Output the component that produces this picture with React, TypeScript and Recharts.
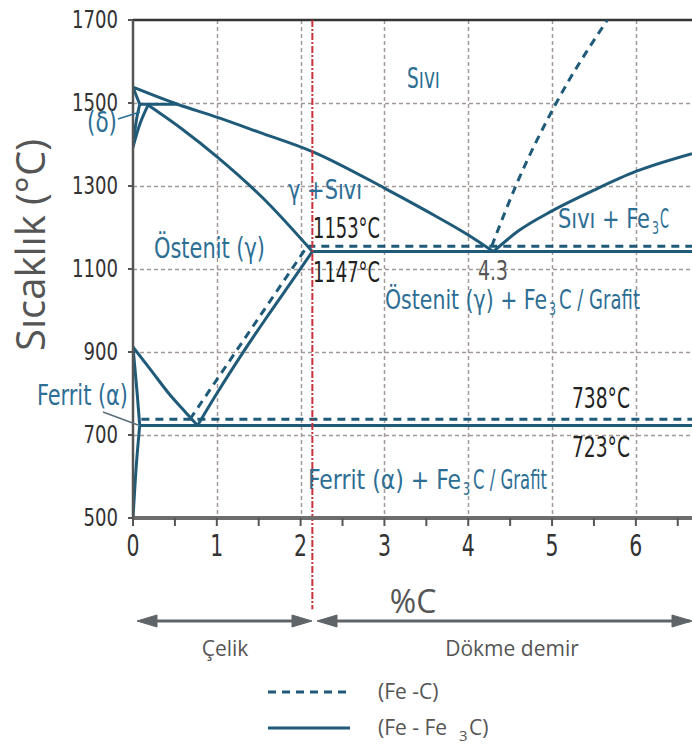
import { LineChart, Line, XAxis, YAxis, ReferenceLine } from "recharts";

// axis ticks
const xTicks = [0, 0.5, 1, 1.5, 2, 2.5, 3, 3.5, 4, 4.5, 5, 5.5, 6, 6.5];
const yTicks = [500, 700, 900, 1100, 1300, 1500, 1700];
const gridX = [1, 2, 3, 4, 5, 6];
const gridY = [700, 900, 1100, 1300, 1500];

// Fe - Fe3C (solid lines), c = %C, t = °C
const liquidus = [
  { c: 0, t: 1538 }, { c: 0.53, t: 1497 }, { c: 1, t: 1466 }, { c: 1.5, t: 1430 },
  { c: 2.14, t: 1383 }, { c: 3, t: 1295 }, { c: 3.5, t: 1240 }, { c: 4, t: 1182 }, { c: 4.3, t: 1142 },
];
const solidusGamma = [
  { c: 0.18, t: 1495 }, { c: 0.6, t: 1435 }, { c: 1, t: 1371 }, { c: 1.55, t: 1271 }, { c: 2.14, t: 1142 },
];
const peritectic = [{ c: 0.08, t: 1497 }, { c: 0.53, t: 1497 }];
const deltaSolidus = [{ c: 0, t: 1538 }, { c: 0.08, t: 1497 }];
const deltaInner = [{ c: 0, t: 1394 }, { c: 0.03, t: 1445 }, { c: 0.08, t: 1497 }];
const deltaOuter = [{ c: 0, t: 1394 }, { c: 0.08, t: 1448 }, { c: 0.18, t: 1495 }];
const eutectic = [{ c: 2.14, t: 1142 }, { c: 6.67, t: 1142 }];
const liquidusFe3C = [
  { c: 4.3, t: 1142 }, { c: 4.6, t: 1192 }, { c: 5, t: 1240 }, { c: 5.5, t: 1290 },
  { c: 6, t: 1335 }, { c: 6.67, t: 1378 },
];
const acm = [
  { c: 0.77, t: 723 }, { c: 1, t: 800 }, { c: 1.3, t: 895 }, { c: 1.6, t: 985 },
  { c: 1.9, t: 1072 }, { c: 2.14, t: 1142 },
];
const a3 = [{ c: 0, t: 912 }, { c: 0.2, t: 860 }, { c: 0.44, t: 797 }, { c: 0.64, t: 752 }, { c: 0.77, t: 723 }];
const ferriteA3 = [{ c: 0, t: 912 }, { c: 0.05, t: 800 }, { c: 0.08, t: 723 }];
const ferriteSolvus = [{ c: 0, t: 500 }, { c: 0.03, t: 600 }, { c: 0.08, t: 723 }];
const eutectoid = [{ c: 0.08, t: 723 }, { c: 6.67, t: 723 }];

// Fe - C (dashed lines)
const eutecticG = [{ c: 2.08, t: 1155 }, { c: 6.67, t: 1155 }];
const liquidusG = [{ c: 4.28, t: 1155 }, { c: 4.58, t: 1306 }, { c: 5.05, t: 1500 }, { c: 5.66, t: 1700 }];
const acmG = [{ c: 0.68, t: 738 }, { c: 2.08, t: 1155 }];
const eutectoidG = [{ c: 0.1, t: 738 }, { c: 6.67, t: 738 }];

const solidSeries = [
  liquidus, solidusGamma, peritectic, deltaSolidus, deltaInner, deltaOuter, eutectic,
  liquidusFe3C, acm, a3, ferriteA3, ferriteSolvus, eutectoid,
];
const dashedSeries = [eutecticG, liquidusG, acmG, eutectoidG];

const LINE = "#1f5b79";
const LABEL = "#2d6e94";
const GRID = "#a39999";
const NARROW = "'Liberation Sans Narrow', 'DejaVu Sans Condensed', 'Roboto', sans-serif";
const SANS = "'Open Sans', 'Noto Sans', sans-serif";

// plot box (matches the chart margins below)
const PL = 133, PR = 692, PT = 20, PB = 518;
const X_MAX = 6.67, Y_MIN = 500, Y_MAX = 1700;
const px = (c: number) => Math.round(PL + (c / X_MAX) * (PR - PL)) + 0.5;
const py = (t: number) => Math.round(PT + ((Y_MAX - t) / (Y_MAX - Y_MIN)) * (PB - PT)) + 0.5;

function YTick({ x, y, payload }: any) {
  const s = String(payload.value);
  return (
    <text x={x} y={y} dy={8} textAnchor="end" fontSize={24} fontFamily={NARROW} fill="#333"
      textLength={s.length * 11.5} lengthAdjust="spacingAndGlyphs">
      {s}
    </text>
  );
}

function XTick({ x, y, payload }: any) {
  if (!Number.isInteger(payload.value)) return <g />;
  return (
    <text x={x} y={y} dy={24} textAnchor="middle" fontSize={30} fontFamily={NARROW} fill="#333"
      textLength={13} lengthAdjust="spacingAndGlyphs">
      {payload.value}
    </text>
  );
}

function Lbl({ x, y, w, size = 28, fill = LABEL, children }: any) {
  return (
    <text x={x} y={y} fontSize={size} fontFamily={NARROW} fill={fill} textLength={w} lengthAdjust="spacingAndGlyphs">
      {children}
    </text>
  );
}

// label with a "3" subscript (Fe3C): three separate runs
function SubLbl({ y, pre, post, size = 27 }: any) {
  return (
    <g>
      <Lbl x={pre[0]} y={y} w={pre[1]} size={size}>{pre[2]}</Lbl>
      <Lbl x={pre[0] + pre[1] + 2} y={y + 6} w={7} size={18}>3</Lbl>
      <Lbl x={post[0]} y={y} w={post[1]} size={size}>{post[2]}</Lbl>
    </g>
  );
}

export default function App() {
  return (
    <div style={{ position: "relative", width: 692, height: 749, background: "#fff" }}>
      <style>{"body{margin:0}"}</style>

      {/* dashed background grid, under the chart */}
      <svg width={692} height={749} style={{ position: "absolute", left: 0, top: 0 }}>
        <g stroke={GRID} strokeWidth={1.5} strokeDasharray="4 3">
          {gridX.map((v) => (
            <line key={"gx" + v} x1={px(v)} x2={px(v)} y1={PT} y2={PB} />
          ))}
          {gridY.map((v) => (
            <line key={"gy" + v} x1={PL} x2={PR} y1={py(v)} y2={py(v)} />
          ))}
        </g>
      </svg>

      <LineChart width={692} height={749} margin={{ top: 20, right: 0, bottom: 191, left: 73 }}>
        <XAxis dataKey="c" type="number" domain={[0, X_MAX]} ticks={xTicks} interval={0} allowDataOverflow
          tick={<XTick />} tickSize={8} tickMargin={6} height={40}
          axisLine={{ stroke: "#6d6d6d", strokeWidth: 4 }} tickLine={{ stroke: "#555", strokeWidth: 2 }} />
        <YAxis type="number" domain={[Y_MIN, Y_MAX]} ticks={yTicks} interval={0} allowDataOverflow
          tick={<YTick />} tickSize={5} tickMargin={10} width={60}
          axisLine={{ stroke: "#555", strokeWidth: 2.5 }} tickLine={{ stroke: "#555", strokeWidth: 2 }} />
        <ReferenceLine y={1700} ifOverflow="visible" stroke="#333" strokeWidth={2.5} />
        {solidSeries.map((d, i) => (
          <Line key={"s" + i} data={d} dataKey="t" type="monotone" stroke={LINE} strokeWidth={3}
            dot={false} activeDot={false} isAnimationActive={false} />
        ))}
        {dashedSeries.map((d, i) => (
          <Line key={"d" + i} data={d} dataKey="t" type="monotone" stroke={LINE} strokeWidth={3}
            strokeDasharray="8 6" dot={false} activeDot={false} isAnimationActive={false} />
        ))}
        <ReferenceLine segment={[{ x: 2.14, y: 1700 }, { x: 2.14, y: 280 }]} ifOverflow="visible"
          stroke="#c8323c" strokeWidth={2} strokeDasharray="7 2 2 2" />
      </LineChart>

      <svg width={692} height={749} style={{ position: "absolute", left: 0, top: 0, pointerEvents: "none" }}>
        <text transform="translate(45,245) rotate(-90)" textAnchor="middle" fontSize={40} fontFamily={SANS} fill="#555">
          Sıcaklık (°C)
        </text>
        <text x={413} y={613} textAnchor="middle" fontSize={32} fontFamily={SANS} fill="#555">%C</text>

        <Lbl x={407} y={88} w={33}>Sıvı</Lbl>
        <Lbl x={87} y={132} w={30}>(δ)</Lbl>
        <line x1={118} y1={119} x2={140} y2={112} stroke={LABEL} strokeWidth={1.5} />
        <Lbl x={288} y={199} w={74} size={27}>γ +Sıvı</Lbl>
        <Lbl x={154} y={258} w={111}>Östenit (γ)</Lbl>
        <SubLbl y={228} pre={[558, 92, "Sıvı + Fe"]} post={[660, 9, "C"]} />
        <SubLbl y={309} pre={[385, 162, "Östenit (γ) + Fe"]} post={[559, 81, "C / Grafit"]} />
        <Lbl x={37} y={405} w={91}>Ferrit (α)</Lbl>
        <line x1={103} y1={412} x2={138} y2={425} stroke="#5a6e7a" strokeWidth={1.5} />
        <SubLbl y={489} pre={[308, 153, "Ferrit (α) + Fe"]} post={[473, 74, "C / Grafit"]} />

        <Lbl x={313} y={238} w={67} fill="#222">1153°C</Lbl>
        <Lbl x={313} y={282} w={67} fill="#222">1147°C</Lbl>
        <Lbl x={478} y={280} w={30} size={26} fill="#555">4.3</Lbl>
        <Lbl x={572} y={408} w={58} fill="#222">738°C</Lbl>
        <Lbl x={572} y={457} w={58} fill="#222">723°C</Lbl>

        <g stroke="#5f6468" fill="#5f6468">
          <line x1={150} y1={621} x2={300} y2={621} strokeWidth={3} />
          <polygon points="137,621 157,615 157,627" />
          <polygon points="312,621 292,615 292,627" />
          <line x1={330} y1={621} x2={690} y2={621} strokeWidth={3} />
          <polygon points="317,621 337,615 337,627" />
          <polygon points="692,621 672,615 672,627" />
        </g>
        <text x={225} y={656} textAnchor="middle" fontSize={21} fontFamily={SANS} fill="#555">Çelik</text>
        <text x={512} y={656} textAnchor="middle" fontSize={21} fontFamily={SANS} fill="#555">Dökme demir</text>

        <line x1={268} y1={692} x2={350} y2={692} stroke={LINE} strokeWidth={3} strokeDasharray="8 6" />
        <text x={378} y={699} fontSize={21} fontFamily={SANS} fill="#555">(Fe -C)</text>
        <line x1={268} y1={728} x2={350} y2={728} stroke={LINE} strokeWidth={3} />
        <text x={378} y={735} fontSize={21} fontFamily={SANS} fill="#555">(Fe - Fe</text>
        <text x={459} y={741} fontSize={15} fontFamily={SANS} fill="#555">3</text>
        <text x={469} y={735} fontSize={21} fontFamily={SANS} fill="#555">C)</text>
      </svg>
    </div>
  );
}
